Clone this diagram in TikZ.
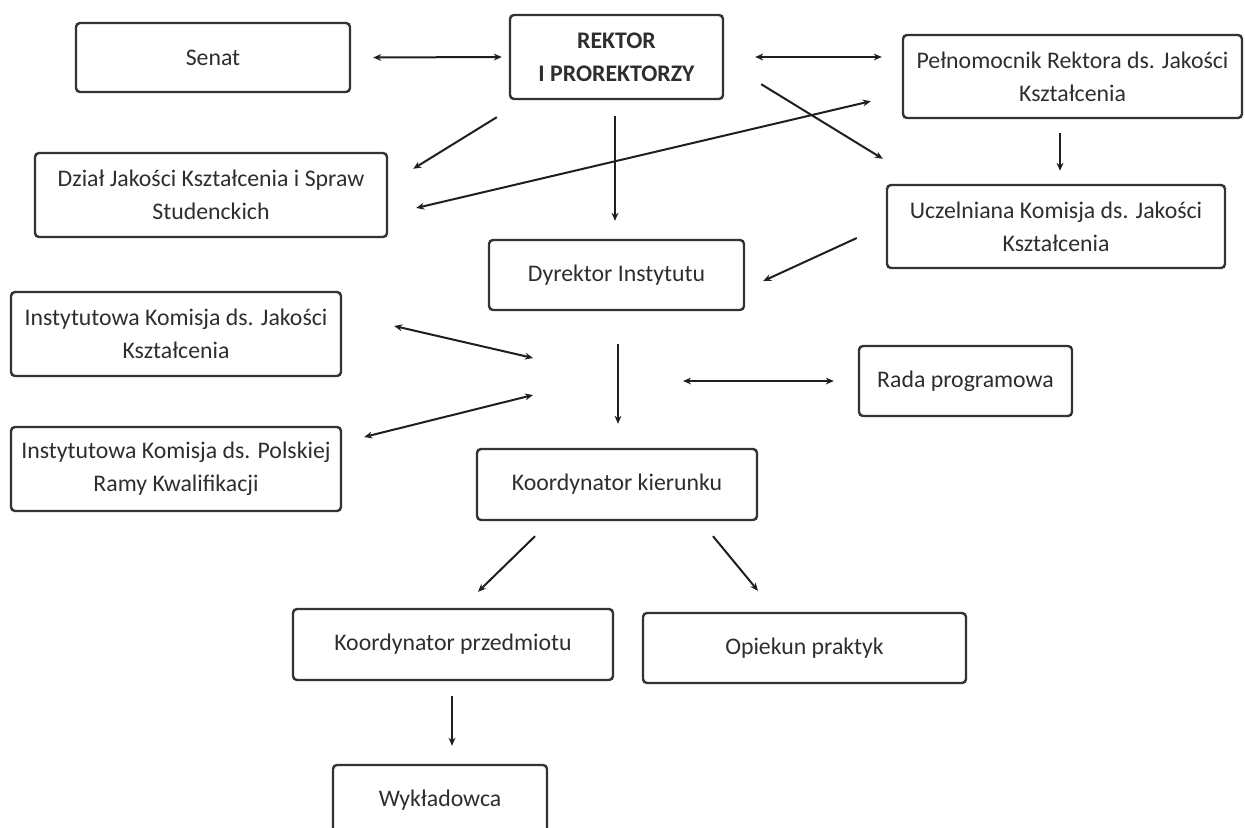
\documentclass[tikz,border=0pt]{standalone}
\usepackage{fontspec}
\setmainfont{Carlito}
\usetikzlibrary{arrows.meta,calc}
\begin{document}
\begin{tikzpicture}[x=0.5pt,y=-0.5pt,
  bx/.style={draw=black!80, line width=1.2pt, rounded corners=2pt, align=center,
    text=black!82, inner sep=2pt,
    font=\fontsize{11.9pt}{16.5pt}\selectfont},
  ar/.style={draw=black!88, line width=1pt, -{Stealth[length=4pt,width=3.4pt]}},
  dar/.style={draw=black!88, line width=1pt, {Stealth[length=4pt,width=3.4pt]}-{Stealth[length=4pt,width=3.4pt]}}]
\useasboundingbox (0,0) rectangle (1245,828);
\fill[white] (0,0) rectangle (1245,828);

\node[bx, minimum width=137pt, minimum height=34.5pt] (senat) at (213,57.5) {Senat};
\node[bx, minimum width=106.5pt, minimum height=42pt] (rektor) at (616.5,57) {\textbf{REKTOR}\\\textbf{I PROREKTORZY}};
\node[bx, minimum width=169.5pt, minimum height=41.5pt] (pelnom) at (1072.5,76.5) {Pełnomocnik Rektora ds. Jakości\\Kształcenia};
\node[bx, minimum width=176pt, minimum height=42pt] (dzial) at (211,195) {Dział Jakości Kształcenia i Spraw\\Studenckich};
\node[bx, minimum width=169pt, minimum height=41.5pt] (uczel) at (1056,226.5) {Uczelniana Komisja ds. Jakości\\Kształcenia};
\node[bx, minimum width=127.5pt, minimum height=35pt] (dyrektor) at (616.5,275) {Dyrektor Instytutu};
\node[bx, minimum width=165pt, minimum height=42pt] (ikjk) at (176,334) {Instytutowa Komisja ds. Jakości\\Kształcenia};
\node[bx, minimum width=106.5pt, minimum height=35pt] (rada) at (965.5,381) {Rada programowa};
\node[bx, minimum width=165pt, minimum height=42pt] (ikprk) at (176,469) {Instytutowa Komisja ds. Polskiej\\Ramy Kwalifikacji};
\node[bx, minimum width=140pt, minimum height=35.5pt] (kkier) at (617,484.5) {Koordynator kierunku};
\node[bx, minimum width=160pt, minimum height=35.5pt] (kprz) at (453,644.5) {Koordynator przedmiotu};
\node[bx, minimum width=161.5pt, minimum height=35pt] (opiek) at (804.5,648) {Opiekun praktyk};
\node[bx, minimum width=107pt, minimum height=35pt] (wyk) at (440,800) {Wykładowca};

\coordinate (hubA) at (533,358);
\coordinate (hubB) at (533,395);
\coordinate (hubC) at (683,381);

\draw[dar] ($(senat.east)+(22,0)$) -- ($(rektor.west)+(-7,0)$);
\draw[dar] ($(rektor.east)+(31,0)$) -- ($(pelnom.west)+(-20,-19.5)$);
\draw[ar] ($(rektor.south east)+(37,-16)$) -- ($(uczel.north west)+(-3,-25)$);
\draw[dar] ($(dzial.east)+(28,13)$) -- ($(pelnom.south west)+(-31,-18)$);
\draw[ar] ($(rektor.south west)+(-12,17)$) -- ($(dzial.north east)+(25,17)$);
\draw[ar] ($(rektor.south)+(-1.5,16)$) -- ($(dyrektor.north)+(-1.5,-18)$);
\draw[ar] ($(pelnom.south)+(-12.5,14)$) -- ($(uczel.north)+(4,-13)$);
\draw[ar] ($(uczel.west)+(-29,11.5)$) -- ($(dyrektor.east)+(18,6)$);
\draw[dar] ($(ikjk.east)+(52,-8)$) -- (hubA);
\draw[dar] ($(ikprk.east)+(22,-32)$) -- (hubB);
\draw[ar] ($(dyrektor.south)+(1.5,33)$) -- ($(kkier.north)+(1,-24)$);
\draw[dar] (hubC) -- ($(rada.west)+(-24,0)$);
\draw[ar] ($(kkier.south)+(-82,15)$) -- ($(kprz.north)+(25,-16)$);
\draw[ar] ($(kkier.south)+(96,15)$) -- ($(opiek.north)+(-46.5,-21)$);
\draw[ar] ($(kprz.south)+(-1,15)$) -- ($(wyk.north)+(12,-18)$);
\end{tikzpicture}
\end{document}
